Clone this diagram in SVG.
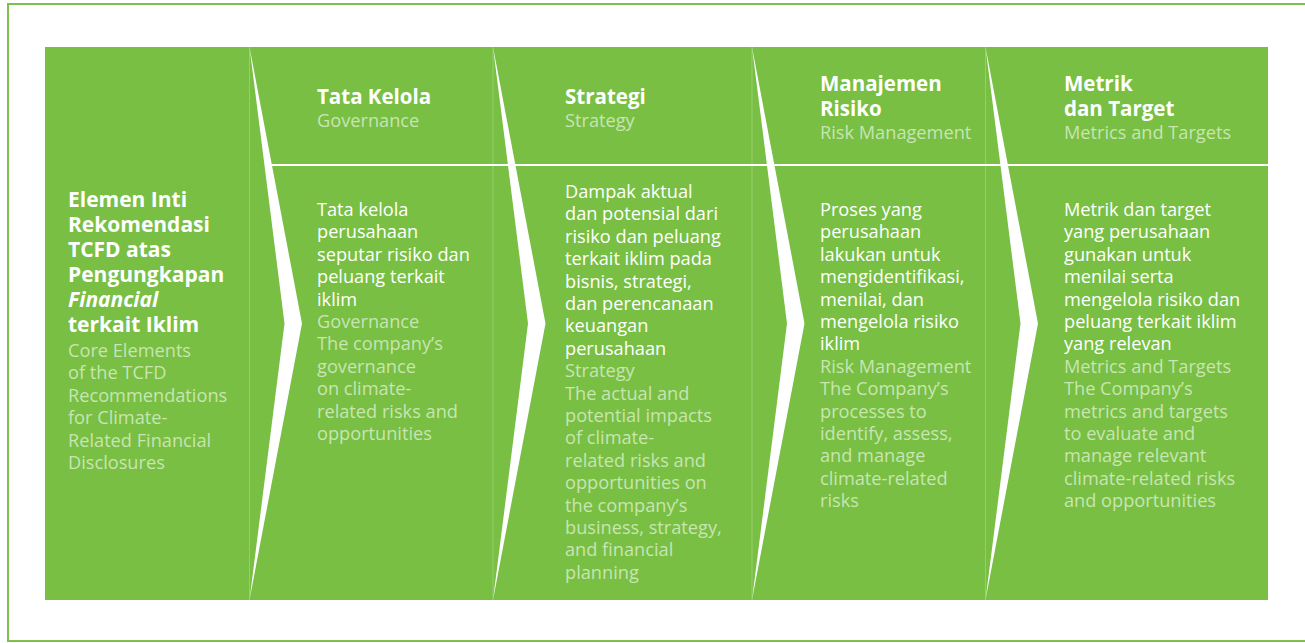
<svg xmlns="http://www.w3.org/2000/svg" width="1305" height="643" viewBox="0 0 1305 643">
<style>
text{font-family:"Open Sans","Liberation Sans",sans-serif;}
.b{font-weight:700;font-size:20.5px;fill:#ffffff;}
.bl{font-weight:700;font-size:21px;fill:#ffffff;}
.w{font-size:18.2px;fill:#ffffff;}
.l{font-size:18.2px;fill:#c8e5b2;}
.sep{stroke:#93cf6c;stroke-width:1;}
.chev{fill:#ffffff;}
</style>
<rect width="1305" height="643" fill="#ffffff"/>
<rect x="8" y="4" width="1320" height="637" fill="none" stroke="#7dc14c" stroke-width="2"/>
<rect x="45" y="47" width="1223" height="553" fill="#78bf44"/>
<g id="dividers">
<line class="sep" x1="249.5" y1="47" x2="249.5" y2="600"/>
<line class="sep" x1="493" y1="47" x2="493" y2="600"/>
<line class="sep" x1="752" y1="47" x2="752" y2="600"/>
<line class="sep" x1="985.5" y1="47" x2="985.5" y2="600"/>
<rect x="271" y="164" width="997" height="2" fill="#ffffff"/>
</g>
<g id="connectors">
<polygon class="chev" points="249.5,47 302,323.5 249.5,600 284.5,323.5"/>
<polygon class="chev" points="493,47 545.5,323.5 493,600 528,323.5"/>
<polygon class="chev" points="752,47 804.5,323.5 752,600 787,323.5"/>
<polygon class="chev" points="985.5,47 1038,323.5 985.5,600 1020.5,323.5"/>
</g>
<g id="node-core">
<text class="bl" x="68" y="207">Elemen Inti</text>
<text class="bl" x="68" y="232">Rekomendasi</text>
<text class="bl" x="68" y="257">TCFD atas</text>
<text class="bl" x="68" y="282">Pengungkapan</text>
<text class="bl" x="68" y="307" font-style="italic">Financial</text>
<text class="bl" x="68" y="332">terkait Iklim</text>
<text class="l" x="68" y="357">Core Elements</text>
<text class="l" x="68" y="379.4">of the TCFD</text>
<text class="l" x="68" y="401.8">Recommendations</text>
<text class="l" x="68" y="424.2">for Climate-</text>
<text class="l" x="68" y="446.6">Related Financial</text>
<text class="l" x="68" y="469">Disclosures</text>
</g>
<g id="node-governance">
<text class="b" x="317" y="104">Tata Kelola</text>
<text class="l" x="317" y="126.5">Governance</text>
<text class="w" x="317" y="216">Tata kelola</text>
<text class="w" x="317" y="238.4">perusahaan</text>
<text class="w" x="317" y="260.8">seputar risiko dan</text>
<text class="w" x="317" y="283.2">peluang terkait</text>
<text class="w" x="317" y="305.6">iklim</text>
<text class="l" x="317" y="328">Governance</text>
<text class="l" x="317" y="350.4">The company’s</text>
<text class="l" x="317" y="372.8">governance</text>
<text class="l" x="317" y="395.2">on climate-</text>
<text class="l" x="317" y="417.6">related risks and</text>
<text class="l" x="317" y="440">opportunities</text>
</g>
<g id="node-strategy">
<text class="b" x="565" y="104">Strategi</text>
<text class="l" x="565" y="126.5">Strategy</text>
<text class="w" x="565" y="198">Dampak aktual</text>
<text class="w" x="565" y="220.4">dan potensial dari</text>
<text class="w" x="565" y="242.8">risiko dan peluang</text>
<text class="w" x="565" y="265.2">terkait iklim pada</text>
<text class="w" x="565" y="287.6">bisnis, strategi,</text>
<text class="w" x="565" y="310">dan perencanaan</text>
<text class="w" x="565" y="332.4">keuangan</text>
<text class="w" x="565" y="354.8">perusahaan</text>
<text class="l" x="565" y="377.2">Strategy</text>
<text class="l" x="565" y="399.6">The actual and</text>
<text class="l" x="565" y="422">potential impacts</text>
<text class="l" x="565" y="444.4">of climate-</text>
<text class="l" x="565" y="466.8">related risks and</text>
<text class="l" x="565" y="489.2">opportunities on</text>
<text class="l" x="565" y="511.6">the company’s</text>
<text class="l" x="565" y="534">business, strategy,</text>
<text class="l" x="565" y="556.4">and financial</text>
<text class="l" x="565" y="578.8">planning</text>
</g>
<g id="node-risk">
<text class="b" x="820" y="91">Manajemen</text>
<text class="b" x="820" y="116">Risiko</text>
<text class="l" x="820" y="139">Risk Management</text>
<text class="w" x="820" y="216">Proses yang</text>
<text class="w" x="820" y="238.4">perusahaan</text>
<text class="w" x="820" y="260.8">lakukan untuk</text>
<text class="w" x="820" y="283.2">mengidentifikasi,</text>
<text class="w" x="820" y="305.6">menilai, dan</text>
<text class="w" x="820" y="328">mengelola risiko</text>
<text class="w" x="820" y="350.4">iklim</text>
<text class="l" x="820" y="372.8">Risk Management</text>
<text class="l" x="820" y="395.2">The Company’s</text>
<text class="l" x="820" y="417.6">processes to</text>
<text class="l" x="820" y="440">identify, assess,</text>
<text class="l" x="820" y="462.4">and manage</text>
<text class="l" x="820" y="484.8">climate-related</text>
<text class="l" x="820" y="507.2">risks</text>
</g>
<g id="node-metrics">
<text class="b" x="1064" y="91">Metrik</text>
<text class="b" x="1064" y="116">dan Target</text>
<text class="l" x="1064" y="139">Metrics and Targets</text>
<text class="w" x="1064" y="216">Metrik dan target</text>
<text class="w" x="1064" y="238.4">yang perusahaan</text>
<text class="w" x="1064" y="260.8">gunakan untuk</text>
<text class="w" x="1064" y="283.2">menilai serta</text>
<text class="w" x="1064" y="305.6">mengelola risiko dan</text>
<text class="w" x="1064" y="328">peluang terkait iklim</text>
<text class="w" x="1064" y="350.4">yang relevan</text>
<text class="l" x="1064" y="372.8">Metrics and Targets</text>
<text class="l" x="1064" y="395.2">The Company’s</text>
<text class="l" x="1064" y="417.6">metrics and targets</text>
<text class="l" x="1064" y="440">to evaluate and</text>
<text class="l" x="1064" y="462.4">manage relevant</text>
<text class="l" x="1064" y="484.8">climate-related risks</text>
<text class="l" x="1064" y="507.2">and opportunities</text>
</g>
</svg>
